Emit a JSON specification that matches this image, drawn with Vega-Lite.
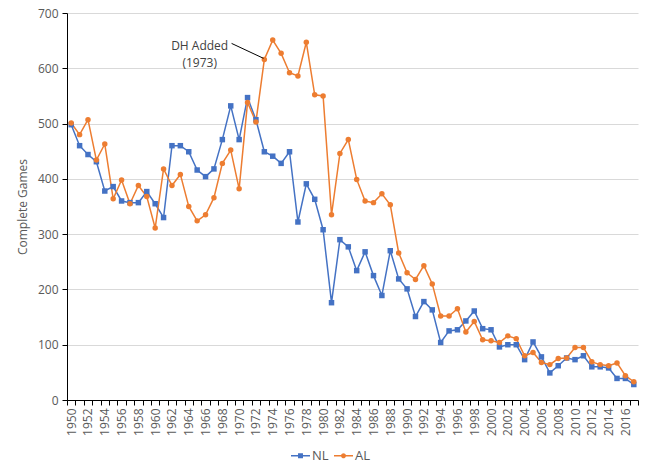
{
  "$schema": "https://vega.github.io/schema/vega-lite/v6.json",
  "width": 571,
  "height": 387,
  "autosize": "none",
  "padding": {"left": 67, "top": 13, "right": 15, "bottom": 69},
  "background": "white",
  "config": {
    "font": "Open Sans",
    "view": {"stroke": null},
    "axis": {"labelColor": "#595959", "labelFontSize": 12, "titleColor": "#595959", "titleFontSize": 12, "titleFontWeight": "normal", "domainColor": "#000000", "tickColor": "#000000"}
  },
  "datasets": {
    "games": [
    {"year":1950,"NL":498,"AL":501},{"year":1951,"NL":460,"AL":480},{"year":1952,"NL":444,"AL":507},{"year":1953,"NL":431,"AL":434},
    {"year":1954,"NL":378,"AL":463},{"year":1955,"NL":386,"AL":364},{"year":1956,"NL":360,"AL":398},{"year":1957,"NL":357,"AL":355},
    {"year":1958,"NL":357,"AL":388},{"year":1959,"NL":377,"AL":368},{"year":1960,"NL":355,"AL":311},{"year":1961,"NL":330,"AL":418},
    {"year":1962,"NL":460,"AL":388},{"year":1963,"NL":460,"AL":408},{"year":1964,"NL":449,"AL":350},{"year":1965,"NL":416,"AL":324},
    {"year":1966,"NL":404,"AL":335},{"year":1967,"NL":418,"AL":366},{"year":1968,"NL":471,"AL":428},{"year":1969,"NL":532,"AL":452},
    {"year":1970,"NL":471,"AL":382},{"year":1971,"NL":547,"AL":538},{"year":1972,"NL":507,"AL":503},{"year":1973,"NL":449,"AL":616},
    {"year":1974,"NL":441,"AL":651},{"year":1975,"NL":428,"AL":627},{"year":1976,"NL":449,"AL":592},{"year":1977,"NL":322,"AL":586},
    {"year":1978,"NL":391,"AL":647},{"year":1979,"NL":363,"AL":552},{"year":1980,"NL":308,"AL":550},{"year":1981,"NL":176,"AL":335},
    {"year":1982,"NL":290,"AL":446},{"year":1983,"NL":277,"AL":471},{"year":1984,"NL":234,"AL":399},{"year":1985,"NL":268,"AL":360},
    {"year":1986,"NL":225,"AL":357},{"year":1987,"NL":189,"AL":373},{"year":1988,"NL":270,"AL":353},{"year":1989,"NL":219,"AL":266},
    {"year":1990,"NL":201,"AL":230},{"year":1991,"NL":151,"AL":218},{"year":1992,"NL":178,"AL":243},{"year":1993,"NL":163,"AL":210},
    {"year":1994,"NL":104,"AL":152},{"year":1995,"NL":125,"AL":152},{"year":1996,"NL":127,"AL":165},{"year":1997,"NL":143,"AL":123},
    {"year":1998,"NL":161,"AL":142},{"year":1999,"NL":129,"AL":109},{"year":2000,"NL":127,"AL":107},{"year":2001,"NL":96,"AL":104},
    {"year":2002,"NL":100,"AL":116},{"year":2003,"NL":100,"AL":111},{"year":2004,"NL":73,"AL":80},{"year":2005,"NL":105,"AL":86},
    {"year":2006,"NL":78,"AL":68},{"year":2007,"NL":49,"AL":64},{"year":2008,"NL":62,"AL":75},{"year":2009,"NL":76,"AL":76},
    {"year":2010,"NL":73,"AL":95},{"year":2011,"NL":80,"AL":95},{"year":2012,"NL":60,"AL":69},{"year":2013,"NL":60,"AL":64},
    {"year":2014,"NL":58,"AL":62},{"year":2015,"NL":39,"AL":67},{"year":2016,"NL":39,"AL":44},{"year":2017,"NL":28,"AL":33}
    ],
    "note": [{"label": "DH Added"}]
  },
  "layer": [
    {"data": {"name": "games"},
     "transform": [{"fold": ["NL", "AL"], "as": ["league", "games"]}],
     "encoding": {
       "x": {"field": "year", "type": "quantitative",
         "scale": {"domain": [1949.5, 2017.5], "nice": false, "zero": false},
         "axis": {"orient": "bottom", "title": null, "grid": false, "domain": false, "ticks": false, "values": [1950,1952,1954,1956,1958,1960,1962,1964,1966,1968,1970,1972,1974,1976,1978,1980,1982,1984,1986,1988,1990,1992,1994,1996,1998,2000,2002,2004,2006,2008,2010,2012,2014,2016],
           "labelExpr": "'' + datum.value", "labelAngle": -90, "labelOverlap": false, "labelFlush": false, "labelPadding": 8}},
       "y": {"field": "games", "type": "quantitative",
         "scale": {"domain": [0, 700], "nice": false},
         "axis": {"title": "Complete Games", "values": [0,100,200,300,400,500,600,700], "gridColor": "#d9d9d9", "tickSize": 5, "labelPadding": 4, "titlePadding": 8}},
       "color": {"field": "league", "type": "nominal", "scale": {"domain": ["NL", "AL"], "range": ["#4472C4", "#ED7D31"]},
         "legend": {"title": null, "orient": "none", "legendX": 224, "legendY": 433, "direction": "horizontal", "symbolSize": 361, "labelFontSize": 13, "labelColor": "#595959", "columnPadding": 5, "labelOffset": 2,
           "encode": {"symbols": {"update": {
             "shape": {"signal": "datum.value === 'NL' ? 'M-1,-0.07H-0.26V-0.26H0.26V-0.07H1V0.07H0.26V0.26H-0.26V0.07H-1Z' : 'M-1,-0.07H-0.25A0.26,0.26,0,0,1,0.25,-0.07H1V0.07H0.25A0.26,0.26,0,0,1,-0.25,0.07H-1Z'"},
             "fill": {"signal": "datum.value === 'NL' ? '#4472C4' : '#ED7D31'"},
             "stroke": {"value": "transparent"},
             "strokeWidth": {"value": 0},
             "opacity": {"value": 1}}}}}}
     },
     "layer": [
       {"mark": {"type": "line", "strokeWidth": 1.5}},
       {"transform": [{"filter": "datum.league === 'NL'"}],
        "mark": {"type": "point", "filled": true, "opacity": 1, "shape": "square", "size": 30}},
       {"transform": [{"filter": "datum.league === 'AL'"}],
        "mark": {"type": "point", "filled": true, "opacity": 1, "shape": "circle", "size": 30}}
     ]},
    {"data": {"name": "note"},
     "mark": {"type": "rule", "color": "#000000", "strokeWidth": 1},
     "encoding": {
       "x": {"datum": 1969.1, "type": "quantitative",
         "axis": {"orient": "bottom", "title": null, "grid": false, "labels": false, "domain": true, "ticks": true, "tickSize": 5,
           "values": [1949.5,1950.5,1951.5,1952.5,1953.5,1954.5,1955.5,1956.5,1957.5,1958.5,1959.5,1960.5,1961.5,1962.5,1963.5,1964.5,1965.5,1966.5,1967.5,1968.5,1969.5,1970.5,1971.5,1972.5,1973.5,1974.5,1975.5,1976.5,1977.5,1978.5,1979.5,1980.5,1981.5,1982.5,1983.5,1984.5,1985.5,1986.5,1987.5,1988.5,1989.5,1990.5,1991.5,1992.5,1993.5,1994.5,1995.5,1996.5,1997.5,1998.5,1999.5,2000.5,2001.5,2002.5,2003.5,2004.5,2005.5,2006.5,2007.5,2008.5,2009.5,2010.5,2011.5,2012.5,2013.5,2014.5,2015.5,2016.5,2017.5]}},
       "y": {"datum": 645, "type": "quantitative",
         "axis": {"title": "Complete Games", "values": [0,100,200,300,400,500,600,700], "gridColor": "#d9d9d9", "tickSize": 5, "labelPadding": 4, "titlePadding": 8}},
       "x2": {"datum": 1972.9}, "y2": {"datum": 618}}},
    {"data": {"name": "note"},
     "mark": {"type": "text", "align": "center", "baseline": "middle", "fontSize": 12, "color": "#404040", "lineHeight": 17},
     "encoding": {
       "x": {"datum": 1965.3, "type": "quantitative", "axis": null},
       "y": {"datum": 640, "type": "quantitative",
         "axis": {"title": "Complete Games", "values": [0,100,200,300,400,500,600,700], "gridColor": "#d9d9d9", "tickSize": 5, "labelPadding": 4, "titlePadding": 8}},
       "text": {"value": ["DH Added", "(1973)"]}}}
  ],
  "resolve": {"axis": {"x": "independent"}}
}
